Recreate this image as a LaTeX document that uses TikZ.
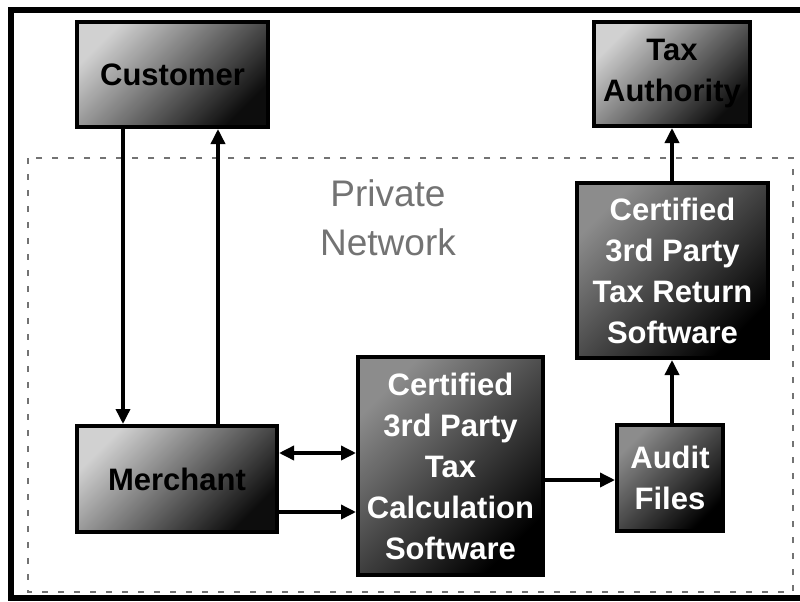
\documentclass[tikz,border=0pt]{standalone}
\usepackage{fontspec}
\setmainfont{Liberation Sans}
\usetikzlibrary{arrows.meta}
\begin{document}
\begin{tikzpicture}[x=1pt,y=-1pt,
  box/.style={draw=black, line width=4pt, inner sep=0pt, align=center,
    font=\fontsize{31}{41}\selectfont\bfseries},
  lightbox/.style={box, top color=black!18, bottom color=black!95, shading angle=45, text=black},
  darkbox/.style={box, top color=black!45, bottom color=black, shading angle=45, text=white},
  tip/.tip={Triangle[length=15pt,width=14pt]},
  arr/.style={line width=3.5pt, -tip},
  biarr/.style={line width=3.5pt, tip-tip},
]
\useasboundingbox (0,0) rectangle (800,602);
\fill[white] (0,0) rectangle (800,602);
% outer frame, running off the right edge
\begin{scope}
  \clip (0,0) rectangle (800,602);
  \draw[line width=6pt] (11,10) rectangle (815,598);
\end{scope}
% private network boundary
\draw[black!55, line width=1.3pt, dash pattern=on 6pt off 10pt] (28,158) rectangle (793,592);
\node[font=\fontsize{37}{49}\selectfont, text=black!55, align=center] (net) at (388,218) {Private\\Network};

% parties and software
\node[lightbox, minimum width=191pt, minimum height=105pt] (cust) at (172.5,74.5) {Customer};
\node[lightbox, minimum width=156pt, minimum height=104pt] (auth) at (672,74) {Tax\\Authority};
\node[lightbox, minimum width=200pt, minimum height=106pt] (merch) at (177,479) {Merchant};
\node[darkbox, minimum width=191pt, minimum height=175pt] (ret) at (672.5,270.5) {Certified\\3rd Party\\Tax Return\\Software};
\node[darkbox, minimum width=185pt, minimum height=218pt] (calc) at (450.5,466) {Certified\\3rd Party\\Tax\\Calculation\\Software};
\node[darkbox, minimum width=106pt, minimum height=106pt] (audit) at (670,478) {Audit\\Files};

% flows
\draw[arr] (cust.south -| 123,0) -- (merch.north -| 123,0);
\draw[arr] (merch.north -| 218,0) -- (cust.south -| 218,0);
\draw[biarr] (merch.east |- 0,453) -- (calc.west |- 0,453);
\draw[arr] (merch.east |- 0,512) -- (calc.west |- 0,512);
\draw[arr] (calc.east |- 0,480) -- (audit.west |- 0,480);
\draw[arr] (audit.north -| 672,0) -- (ret.south -| 672,0);
\draw[arr] (ret.north -| 672,0) -- (auth.south -| 672,0);
\end{tikzpicture}
\end{document}
